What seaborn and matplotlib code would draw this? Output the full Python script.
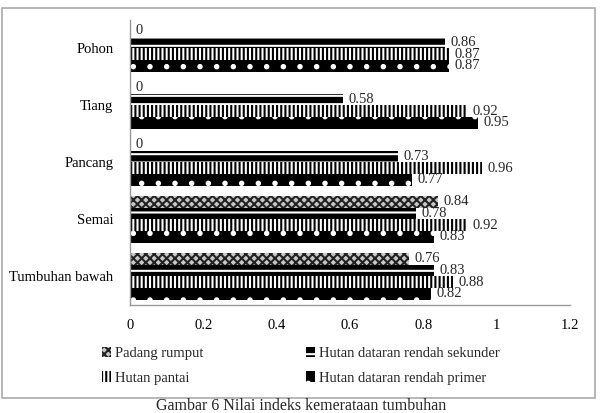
import matplotlib
matplotlib.use("Agg")
import matplotlib.pyplot as plt
import seaborn as sns
import pandas as pd
from matplotlib.patches import Rectangle, Patch

categories = ["Pohon", "Tiang", "Pancang", "Semai", "Tumbuhan bawah"]
series = ["Padang rumput", "Hutan dataran rendah sekunder", "Hutan pantai", "Hutan dataran rendah primer"]
padang_rumput = [0, 0, 0, 0.84, 0.76]
hutan_sekunder = [0.86, 0.58, 0.73, 0.78, 0.83]
hutan_pantai = [0.87, 0.92, 0.96, 0.92, 0.88]
hutan_primer = [0.87, 0.95, 0.77, 0.83, 0.82]
x_ticks = [0, 0.2, 0.4, 0.6, 0.8, 1.0, 1.2]
x_tick_labels = ["0", "0.2", "0.4", "0.6", "0.8", "1", "1.2"]

rows = []
for vals, s in zip([padang_rumput, hutan_sekunder, hutan_pantai, hutan_primer], series):
    for c, v in zip(categories, vals):
        rows.append({"Kategori": c, "Seri": s, "Nilai": v})
df = pd.DataFrame(rows)

sns.set_theme(style="white")
plt.rcParams["font.family"] = ["Liberation Serif", "DejaVu Serif"]
plt.rcParams["hatch.linewidth"] = 1.5

fig = plt.figure(figsize=(6.02, 4.13), dpi=100)
ax = fig.add_axes([0.216, 0.262, 0.731, 0.69])

sns.barplot(data=df, y="Kategori", x="Nilai", hue="Seri", order=categories,
            hue_order=series, orient="h", width=0.82, ax=ax, legend=False,
            errorbar=None, saturation=1)

styles = [
    dict(fc="#c8c8c8", ec="#222222", hatch="xxxx"),
    dict(fc="black", ec="white", hatch="--"),
    dict(fc="white", ec="black", hatch="||||"),
    dict(fc="black", ec="white", hatch="."),
]
for cont, st in zip(ax.containers, styles):
    for p in cont.patches:
        p.set_facecolor(st["fc"])
        p.set_edgecolor(st["ec"])
        p.set_hatch(st["hatch"])
        p.set_linewidth(0)
    ax.bar_label(cont, labels=[f"{v:g}" for v in cont.datavalues], padding=4, fontsize=10.5)

ax.set_xlim(0, 1.2)
ax.set_xticks(x_ticks)
ax.set_xticklabels(x_tick_labels)
ax.set_xlabel("")
ax.set_ylabel("")
ax.tick_params(axis="both", length=0, labelsize=10.5, colors="black")
ax.tick_params(axis="x", pad=10)
ax.tick_params(axis="y", pad=12)
for s in ["top", "right"]:
    ax.spines[s].set_visible(False)
for s in ["left", "bottom"]:
    ax.spines[s].set_color("#999999")
    ax.spines[s].set_linewidth(1)

handles = [Patch(facecolor=st["fc"], edgecolor=st["ec"], hatch=st["hatch"], linewidth=0) for st in styles]
order = [0, 2, 1, 3]
fig.legend([handles[i] for i in order], [series[i] for i in order], ncol=2,
           loc="center", bbox_to_anchor=(0.5, 0.114), frameon=False, fontsize=10.5,
           handlelength=0.6, handleheight=0.7, handletextpad=0.3,
           columnspacing=7, labelspacing=0.75)

fig.patches.append(Rectangle((0.003, 0.036), 0.985, 0.945, transform=fig.transFigure,
                             fill=False, edgecolor="#aaaaaa", linewidth=1.2))
fig.text(0.5, 0.018, "Gambar 6 Nilai indeks kemerataan tumbuhan", ha="center",
         va="center", fontsize=11.5)

fig.savefig("out.png", dpi=100)
